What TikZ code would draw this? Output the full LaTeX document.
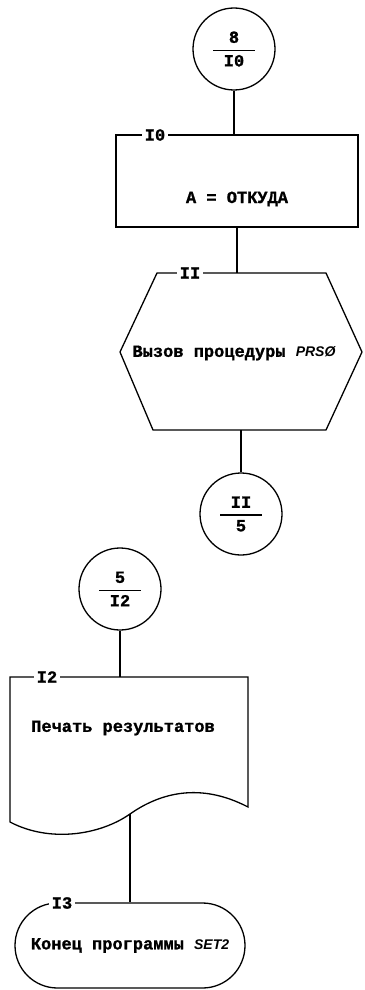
\documentclass[tikz,border=0pt]{standalone}
\usepackage{amsmath}
\usepackage{fontspec}
\setmainfont{Liberation Mono}
\newfontfamily\tw{Liberation Mono}[BoldFeatures={FakeBold=1.2}]
\newfontfamily\hand{Liberation Sans}
\usetikzlibrary{shapes.misc}
\newcommand\frc[2]{$\genfrac{}{}{1.3pt}{0}{\makebox[42pt]{#1}}{\makebox[42pt]{#2}}$}
\tikzset{
  ln/.style={line width=1.3pt},
  tfont/.style={font=\tw\bfseries\fontsize{17}{20}\selectfont},
  conn/.style={circle, draw, ln, minimum size=82pt, inner sep=0pt, tfont},
  procbox/.style={rectangle, draw, ln, minimum width=242pt, minimum height=92pt, inner sep=0pt, tfont},
  term/.style={rounded rectangle, draw, ln, minimum width=230pt, minimum height=85pt, inner sep=0pt, tfont},
  numlab/.style={fill=white, inner sep=3pt, tfont},
  txt/.style={inner sep=0pt, tfont}
}
\newcommand\hw[1]{{\hand\itshape\bfseries\fontsize{14}{16}\selectfont #1}}
\begin{document}
\begin{tikzpicture}[x=1pt,y=-1pt]
\useasboundingbox (0,0) rectangle (364,990);
% connector 8/I0
\node[conn] (c1) at (234,49) {\frc{8}{I0}};
% process box I0
\node[procbox] (b1) at (237,181) {\raisebox{-22pt}[0pt][0pt]{A = ОТКУДА}};
\node[numlab] (l10) at (155,135) {I0};
\draw[ln] (c1.south) -- (c1.south |- b1.north);
% hexagon II
\coordinate (htop) at (237,273);
\coordinate (hbot) at (241,430);
\draw[ln] (120,352) -- (157,273) -- (326,273) -- (362,352) -- (326,430) -- (153,430) -- cycle;
\node[txt] (h) at (234,353) {Вызов процедуры \hw{PRSØ}};
\node[numlab] (l11) at (190,273) {II};
\draw[ln] (b1.south -| htop) -- (htop);
% connector II/5
\node[conn] (c2) at (241,514) {\frc{II}{5}};
\draw[ln] (hbot) -- (c2.north);
% connector 5/I2
\node[conn] (c3) at (120,589) {\frc{5}{I2}};
% document I2
\coordinate (dtop) at (120,677);
\coordinate (dwave) at (130,814);
\draw[ln] (10,822) -- (10,677) -- (248,677) -- (248,807)
  .. controls (200,782) and (160,793) .. (dwave)
  .. controls (100,835) and (50,843) .. (10,822) -- cycle;
\node[txt] (dt) at (123,728) {Печать результатов};
\node[numlab] (l12) at (47,677) {I2};
\draw[ln] (c3.south) -- (dtop);
% terminal I3
\node[term] (t) at (130,945.5) {Конец программы \hw{SET2}};
\node[numlab] (l13) at (62,903) {I3};
\draw[ln] (dwave) -- (dwave |- t.north);
\end{tikzpicture}
\end{document}
